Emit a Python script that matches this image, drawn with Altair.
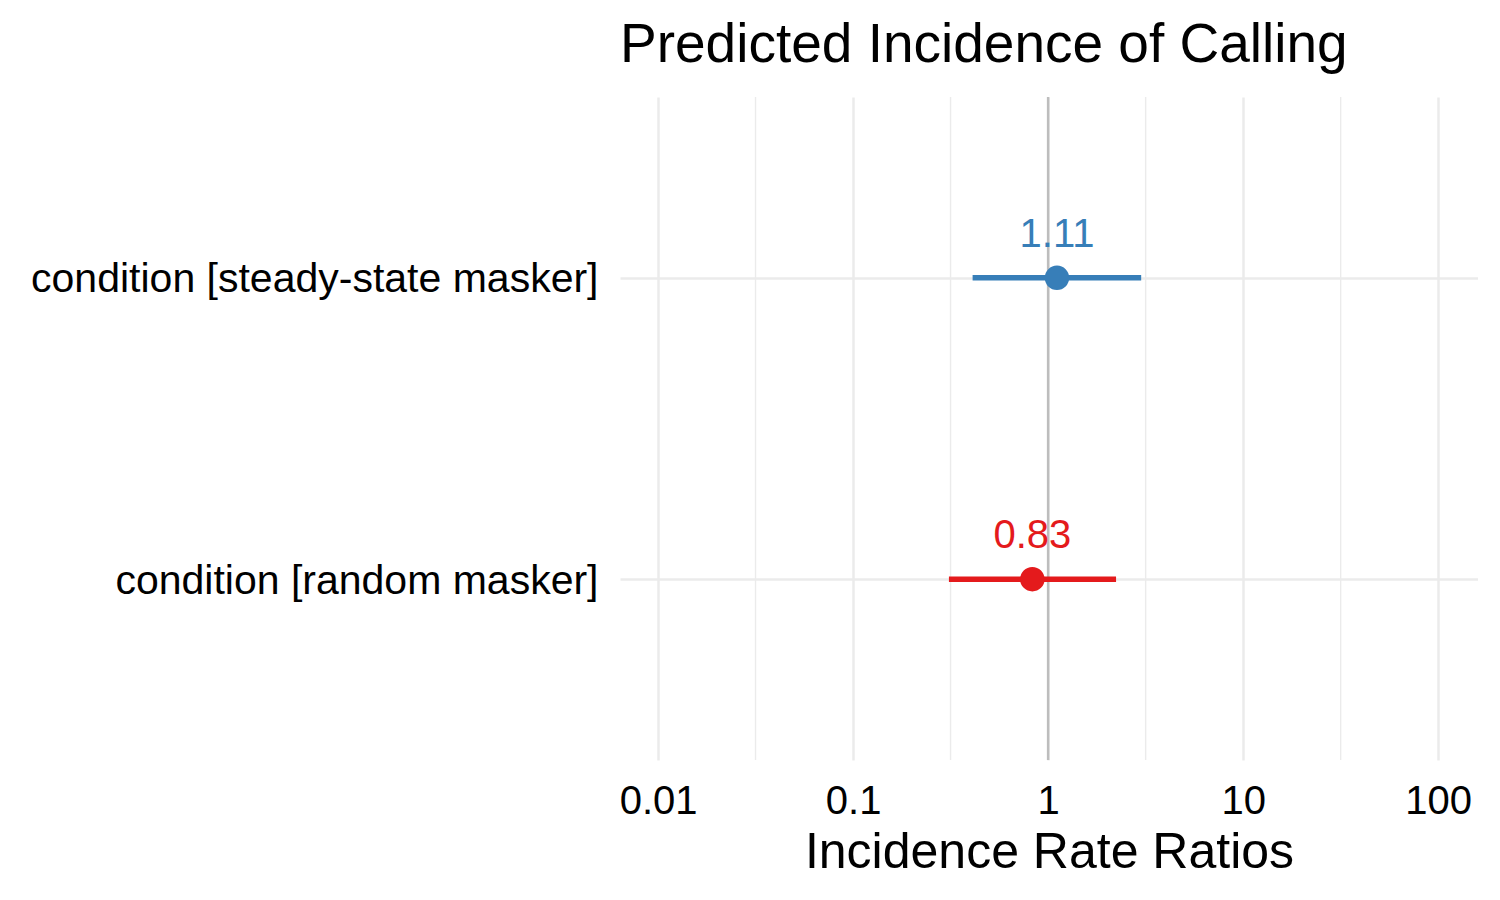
import altair as alt
import pandas as pd

terms = ["condition [steady-state masker]", "condition [random masker]"]
estimates = [1.11, 0.83]
conf_low = [0.41, 0.31]
conf_high = [3.0, 2.23]
labels = ["1.11", "0.83"]
colors = ["#377EB8", "#E41A1C"]

major_ticks = [0.01, 0.1, 1, 10, 100]
minor_ticks = [0.0316, 0.316, 3.162, 31.62]

FONT = "Liberation Sans"

df = pd.DataFrame({
    "term": terms,
    "estimate": estimates,
    "low": conf_low,
    "high": conf_high,
    "label": labels,
})
minor_df = pd.DataFrame({"v": minor_ticks})
ref_df = pd.DataFrame({"v": [1]})

xscale = alt.Scale(type="log", domain=[0.00638, 160], nice=False)
yscale = alt.Scale(type="point", domain=terms, padding=0.6)
cscale = alt.Scale(domain=terms, range=colors)

xaxis = alt.Axis(
    values=major_ticks,
    labelExpr="datum.value >= 1 ? format(datum.value, 'd') : format(datum.value, '')",
    grid=True, gridColor="#EBEBEB", gridWidth=2.5,
    domain=False, ticks=False, tickSize=0,
    labelFontSize=40, labelColor="#000000", labelFont=FONT, labelPadding=21,
    title="Incidence Rate Ratios", titleFontSize=50, titleFont=FONT,
    titleFontWeight="normal", titleColor="#000000", titlePadding=6,
)
yaxis = alt.Axis(
    grid=True, gridColor="#EBEBEB", gridWidth=2.5,
    domain=False, ticks=False, tickSize=0,
    labelFontSize=41, labelColor="#000000", labelFont=FONT, labelPadding=22,
    labelLimit=1000, labelOffset=2,
    title=None,
)

base = alt.Chart(df)

minor = alt.Chart(minor_df).mark_rule(color="#EBEBEB", strokeWidth=1.4).encode(
    x=alt.X("v:Q", scale=xscale, axis=xaxis)
)
ref = alt.Chart(ref_df).mark_rule(color="#BDBDBD", strokeWidth=2.5).encode(
    x=alt.X("v:Q", scale=xscale)
)
bars = base.mark_rule(strokeWidth=5.5).encode(
    x=alt.X("low:Q", scale=xscale),
    x2="high:Q",
    y=alt.Y("term:N", scale=yscale, axis=yaxis),
    color=alt.Color("term:N", scale=cscale, legend=None),
)
points = base.mark_circle(size=600, opacity=1).encode(
    x=alt.X("estimate:Q", scale=xscale),
    y=alt.Y("term:N", scale=yscale),
    color=alt.Color("term:N", scale=cscale, legend=None),
)
texts = base.mark_text(dy=-43, fontSize=40, font=FONT, baseline="middle").encode(
    x=alt.X("estimate:Q", scale=xscale),
    y=alt.Y("term:N", scale=yscale),
    text="label:N",
    color=alt.Color("term:N", scale=cscale, legend=None),
)

chart = alt.layer(minor, ref, bars, points, texts).properties(
    width=858,
    height=663,
    autosize=alt.AutoSizeParams(type="none"),
    padding={"left": 612, "top": 89, "right": 0, "bottom": 130},
    background="white",
    title=alt.TitleParams(
        "Predicted Incidence of Calling", anchor="start", frame="group",
        fontSize=55, font=FONT, fontWeight="normal", color="#000000", offset=22,
    ),
).configure_view(strokeWidth=0, stroke="transparent")

chart.save("out.html", embed_options={"renderer": "svg", "actions": False})
